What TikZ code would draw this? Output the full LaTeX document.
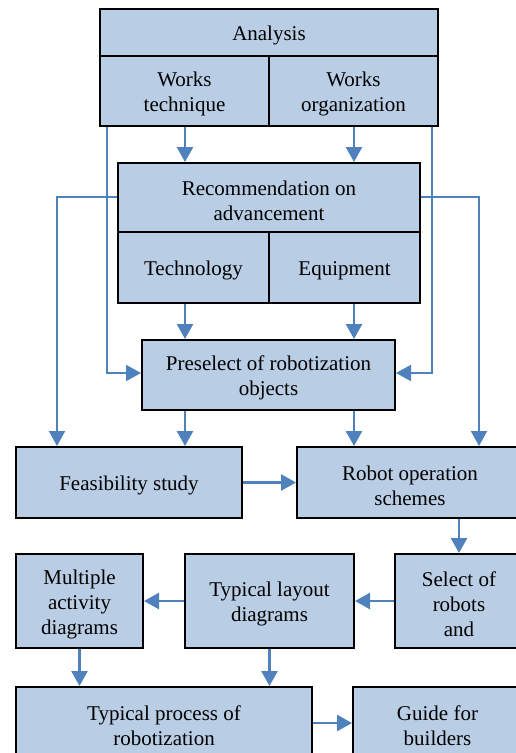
\documentclass[tikz,border=0pt]{standalone}
\usepackage{fontspec}
\setmainfont{Liberation Serif}
\usetikzlibrary{arrows.meta}
\definecolor{boxfill}{HTML}{B9CDE5}
\definecolor{flow}{HTML}{4F81BD}
% taller first line, so the text sits a little below the box centre
\newcommand\fstrut{\rule{0pt}{21pt}}
\tikzset{
  box/.style={draw=black, line width=2pt, fill=boxfill, inner sep=0pt,
    align=center, font=\fontsize{21}{25}\selectfont},
  flowarrow/.style={draw=flow, line width=2.6pt, -{Triangle[length=15pt,width=16pt]}},
  sidearrow/.style={draw=flow, line width=2pt, -{Triangle[length=15pt,width=16pt]}},
}
\begin{document}
\begin{tikzpicture}[x=1pt,y=-1pt]
\useasboundingbox (0,0) rectangle (516,753);
\clip (0,0) rectangle (516,753);
\fill[white] (0,0) rectangle (516,753);

% analysis block
\node[box, minimum width=338pt, minimum height=47pt] (analysis) at (269,32.5) {\fstrut Analysis};
\node[box, minimum width=169pt, minimum height=70pt] (wtech) at (184.5,91) {\fstrut Works\\technique};
\node[box, minimum width=169pt, minimum height=70pt] (worg) at (353.5,91) {\fstrut Works\\organization};

% recommendation block
\node[box, minimum width=302pt, minimum height=69pt] (rec) at (269,197.5) {\fstrut Recommendation on\\advancement};
\node[box, minimum width=151pt, minimum height=71pt] (tech) at (193.5,267.5) {\fstrut Technology};
\node[box, minimum width=151pt, minimum height=71pt] (equip) at (344.5,267.5) {\fstrut Equipment};

% preselection
\node[box, minimum width=253pt, minimum height=70pt] (pre) at (268.5,375) {\fstrut Preselect of robotization\\objects};

% studies
\node[box, minimum width=226pt, minimum height=71pt] (feas) at (129,482.5) {\fstrut Feasibility study};
\node[box, minimum width=226pt, minimum height=71pt] (robop) at (410,482.5) {\fstrut Robot operation\\schemes};

% diagrams row
\node[box, minimum width=127pt, minimum height=94pt] (multi) at (79.5,601) {\fstrut Multiple\\activity\\diagrams};
\node[box, minimum width=169pt, minimum height=94pt] (typlay) at (269.5,601) {\fstrut Typical layout\\diagrams};
\node[box, minimum width=128pt, minimum height=94pt] (select) at (459,601) {\fstrut Select of\\robots\\and};

% outputs
\node[box, minimum width=296pt, minimum height=72pt] (typproc) at (164,723) {\fstrut Typical process of\\robotization};
\node[box, minimum width=169pt, minimum height=72pt] (guide) at (437.5,723) {\fstrut Guide for\\builders};

% connectors
\coordinate (cl) at (185,0);
\coordinate (cr) at (354,0);
\draw[flowarrow] (cl |- wtech.south) -- (cl |- rec.north);
\draw[flowarrow] (cr |- worg.south) -- (cr |- rec.north);
\draw[flowarrow] (cl |- tech.south) -- (cl |- pre.north);
\draw[flowarrow] (cr |- equip.south) -- (cr |- pre.north);
\draw[flowarrow] (cl |- pre.south) -- (cl |- feas.north);
\draw[flowarrow] (cr |- pre.south) -- (cr |- robop.north);

\draw[sidearrow] ([xshift=8pt]wtech.south west) |- ([yshift=2pt]pre.west);
\draw[sidearrow] ([xshift=-7pt]worg.south east) |- ([yshift=2pt]pre.east);
\draw[sidearrow] ([yshift=0.5pt]rec.west) -| ([xshift=42pt]feas.north west);
\draw[sidearrow] ([yshift=0.5pt]rec.east) -| ([xshift=183pt]robop.north west);

\draw[flowarrow] (feas.east) -- (robop.west);
\draw[flowarrow] (select.north |- robop.south) -- (select.north);
\draw[flowarrow] (select.west) -- (typlay.east);
\draw[flowarrow] (typlay.west) -- (multi.east);
\draw[flowarrow] (multi.south) -- (multi.south |- typproc.north);
\draw[flowarrow] (typlay.south) -- (typlay.south |- typproc.north);
\draw[flowarrow] (typproc.east) -- (guide.west);
\end{tikzpicture}
\end{document}
